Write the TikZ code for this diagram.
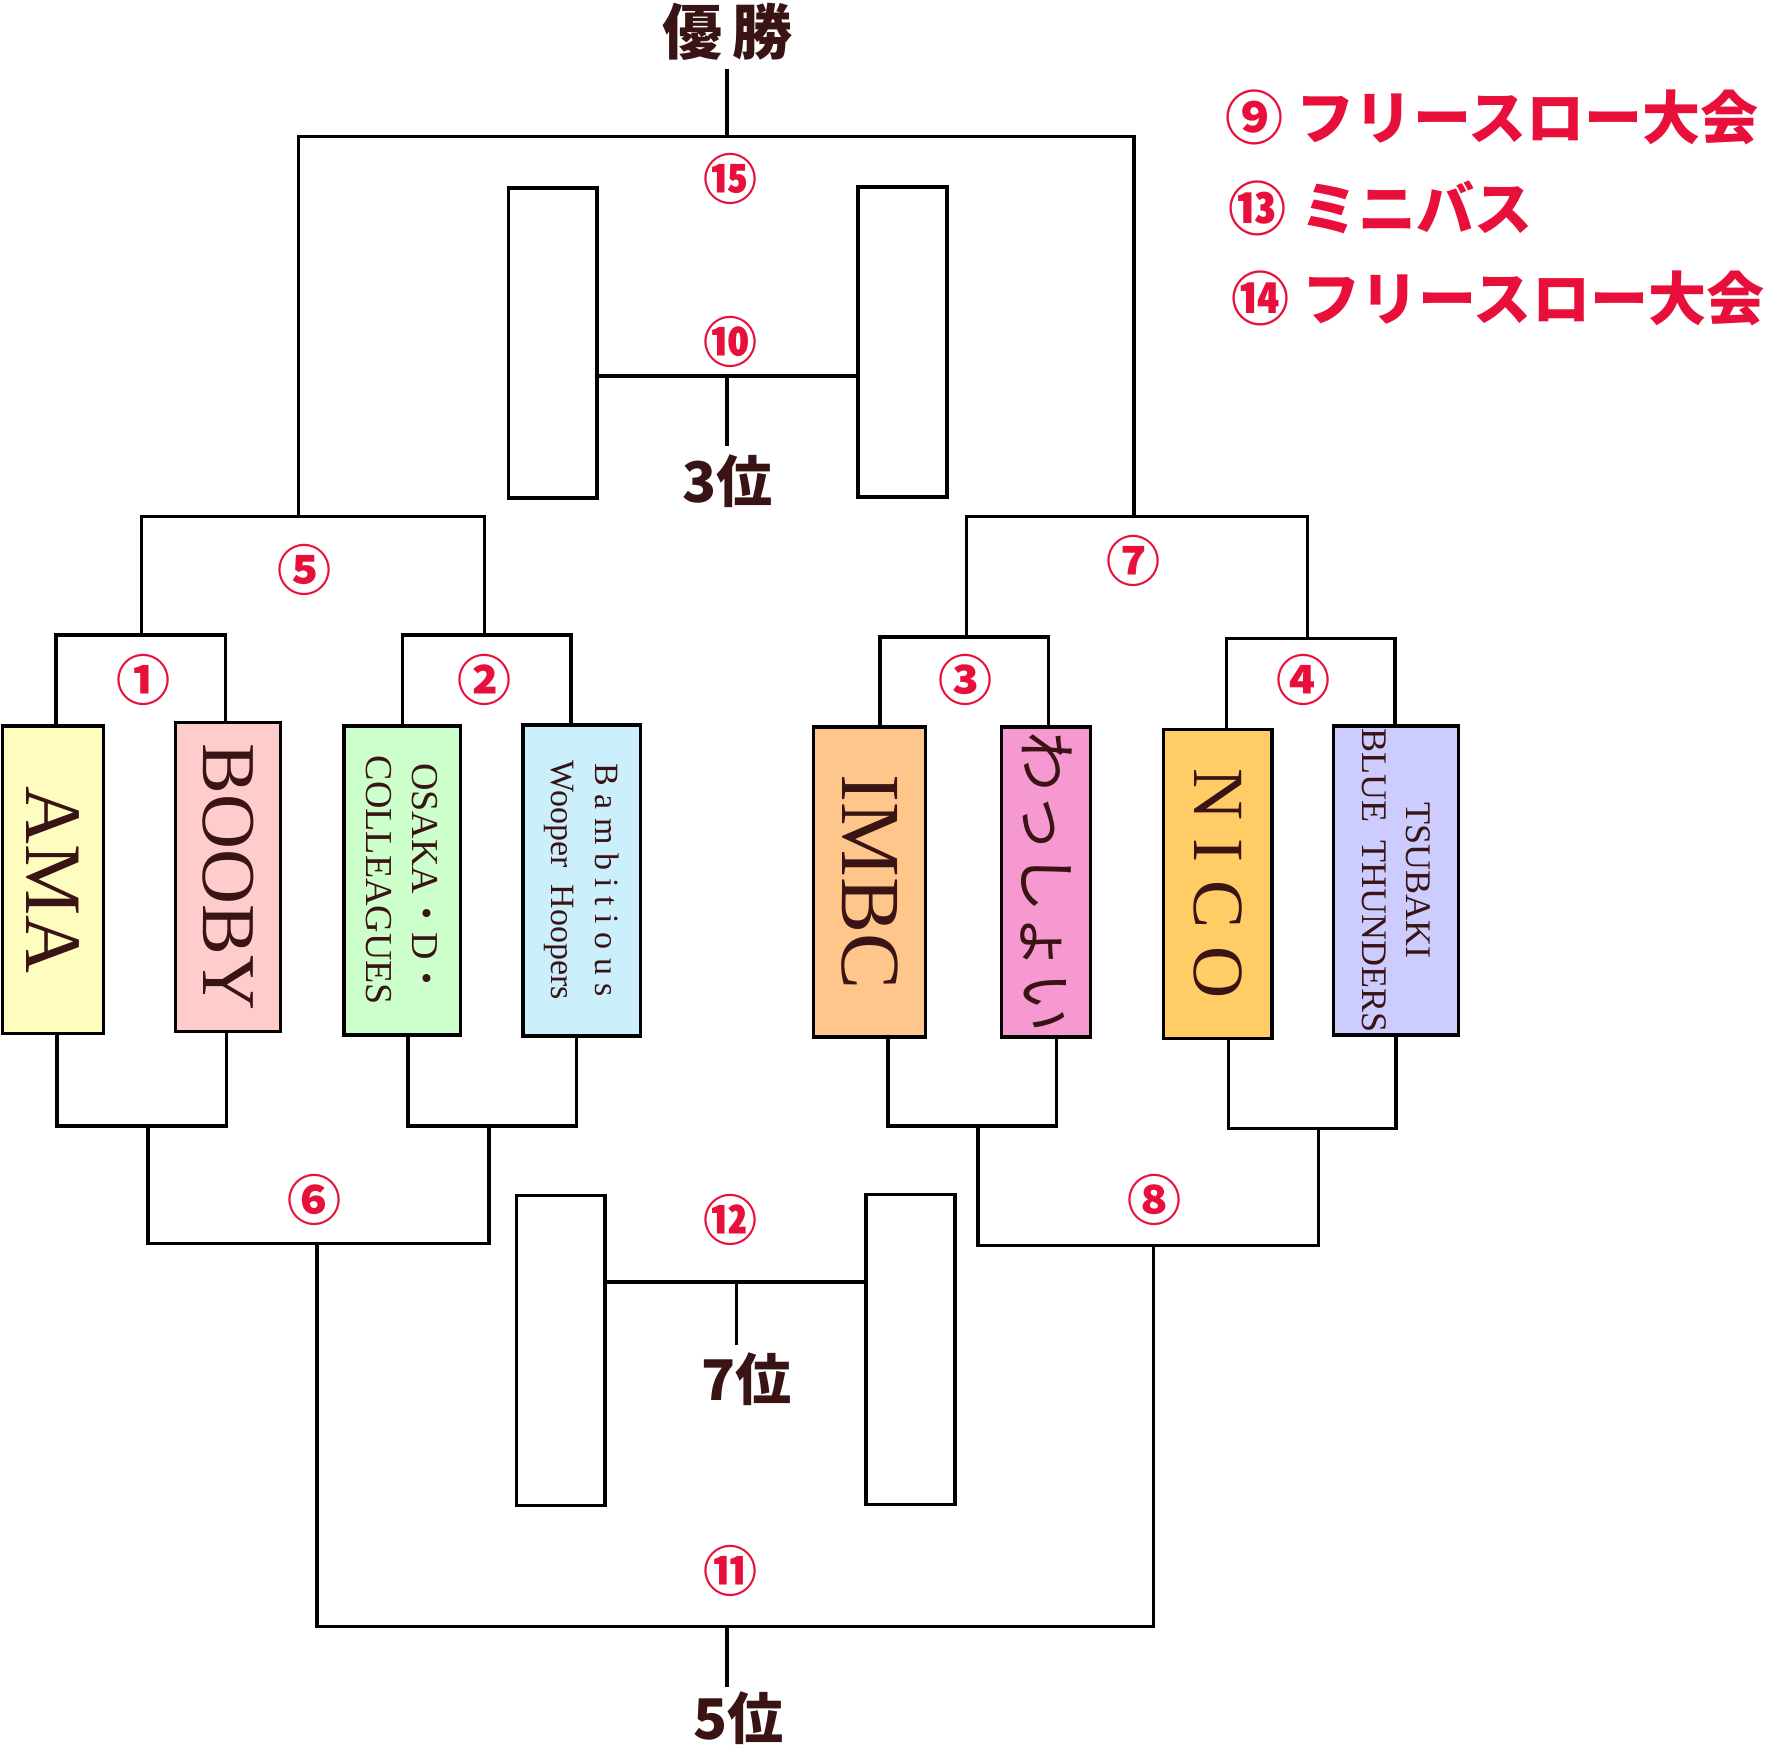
\documentclass[tikz,border=0pt]{standalone}
\usepackage{fontspec}
\setmainfont{Liberation Serif}
\newfontfamily\cjk{Noto Sans CJK JP}
\definecolor{rd}{HTML}{E8103A}
\definecolor{br}{HTML}{3A1414}
\definecolor{nicoc}{HTML}{FFCC66}
\newcommand\team[8]{\pgfmathsetmacro\w{(#4-#2)*0.02}\pgfmathsetmacro\h{(#5-#3)*0.02}%
\node[box,fill=#6,minimum width=\w cm,minimum height=\h cm] (#1) at ({(#2+#4)/2},{(#3+#5)/2}) {};%
\node[rotate=-90,align=center,font=#8,text=br,inner sep=0] (#1t) at (#1.center) {#7};}
\begin{document}
\begin{tikzpicture}[x=0.02cm,y=-0.02cm,line width=1.7pt,
 box/.style={draw,rectangle,inner sep=0,line width=1.7pt},
 num/.style={text=rd,font=\cjk\fontsize{27}{29}\selectfont\bfseries},
 rank/.style={text=br,font=\cjk\fontsize{28}{30}\selectfont\bfseries},
 leg/.style={text=rd,anchor=west,font=\cjk\fontsize{29}{31}\selectfont\bfseries}]
\useasboundingbox (0,0) rectangle (1568,1536);
% teams
\team{ama}{2}{637}{91}{907}{yellow!25}{AMA}{\fontsize{40}{42}\selectfont}
\team{booby}{154}{634}{246}{905}{red!20}{BOOBY}{\fontsize{38}{40}\selectfont}
\team{osaka}{302}{637}{404}{908}{green!20}{OSAKA{\cjk ・}D{\cjk ・}\\COLLEAGUES}{\fontsize{19}{23}\selectfont}
\team{bamb}{459}{636}{562}{909}{cyan!20}{B a m b i t i o u s\\Wooper\ \ Hoopers}{\fontsize{17}{22}\selectfont}
\team{imbc}{714}{638}{812}{910}{orange!45}{IMBC}{\fontsize{42}{44}\selectfont}
\team{wassh}{879}{638}{957}{910}{magenta!40}{\cjk わっしょい}{\fontsize{30}{32}\selectfont}
\team{nico}{1021}{640}{1116}{911}{nicoc}{N I C O}{\fontsize{36}{38}\selectfont}
\team{tsu}{1170}{637}{1280}{908}{blue!20}{TSUBAKI\\BLUE\ \ THUNDERS}{\fontsize{18}{22}\selectfont}
% 3rd / 7th boxes
\node[box,minimum width=1.56cm,minimum height=5.44cm] (s1) at (485,301) {};
\node[box,minimum width=1.56cm,minimum height=5.44cm] (s2) at (792,300) {};
\node[box,minimum width=1.56cm,minimum height=5.44cm] (c1) at (492,1185) {};
\node[box,minimum width=1.56cm,minimum height=5.44cm] (c2) at (799,1184) {};
% labels
\node[rank,font=\cjk\fontsize{30}{32}\selectfont\bfseries] (win) at (638,28) {優\,勝};
\node[rank] (r3) at (638,422) {3位};
\node[rank] (r7) at (655,1210) {7位};
\node[rank] (r5) at (648,1508) {5位};
\node[num] at (641,157) {⑮};
\node[num] at (641,300) {⑩};
\node[num] at (267,500) {⑤};
\node[num] at (126,597) {①};
\node[num] at (425,597) {②};
\node[num] at (995,492) {⑦};
\node[num] at (847,597) {③};
\node[num] at (1144,597) {④};
\node[num] at (276,1053) {⑥};
\node[num] at (1013,1053) {⑧};
\node[num] at (641,1070) {⑫};
\node[num] at (641,1378) {⑪};
\node[leg] at (1068,103) {⑨\ フリースロー大会};
\node[leg] at (1071,183) {⑬\ ミニバス};
\node[leg] at (1073,262) {⑭\ フリースロー大会};
% top brackets
\draw (49,637) -- (49,557) -| (198,634);
\draw (353,637) -- (353,557) -| (501,636);
\draw (772,638) -- (772,559) -| (920,638);
\draw (1076,640) -- (1076,560) -| (1224,637);
\draw (124,557) -- (124,453) -| (425,557);
\draw (848,559) -- (848,453) -| (1147,560);
\draw (262,453) -- (262,120) -| (995,453);
\draw (638,120) -- (win.south);
\draw (524,330) -- (753,330);
\draw (638,330) -- (r3.north);
% bottom brackets
\draw (50,907) -- (50,988) -| (199,905);
\draw (358,908) -- (358,988) -| (506,909);
\draw (779,910) -- (779,988) -| (927,910);
\draw (1078,911) -- (1078,990) -| (1225,908);
\draw (130,988) -- (130,1091) -| (429,988);
\draw (858,988) -- (858,1093) -| (1157,990);
\draw (278,1091) -- (278,1427) -| (1012,1093);
\draw (638,1427) -- (638,1480);
\draw (531,1125) -- (760,1125);
\draw (646,1125) -- (646,1180);
\end{tikzpicture}
\end{document}
